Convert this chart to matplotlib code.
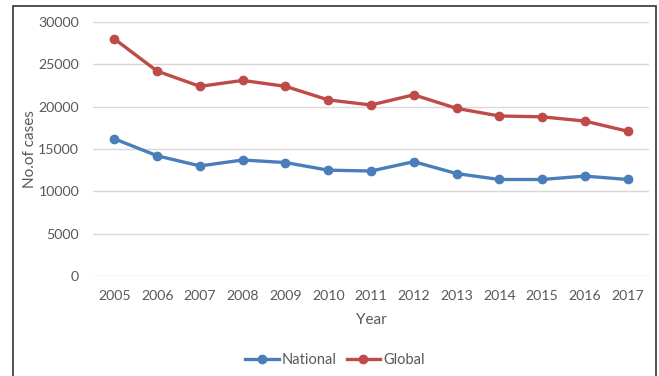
import matplotlib.pyplot as plt
from matplotlib.patches import Rectangle

# Chart data
years = [2005, 2006, 2007, 2008, 2009, 2010, 2011, 2012, 2013, 2014, 2015, 2016, 2017]
national = [16200, 14200, 13000, 13700, 13400, 12500, 12400, 13500, 12100, 11400, 11400, 11800, 11400]
global_cases = [28000, 24200, 22400, 23100, 22400, 20800, 20200, 21400, 19800, 18900, 18800, 18300, 17100]

text_color = "#595959"
plt.rcParams["font.family"] = ["Lato", "DejaVu Sans"]

fig = plt.figure(figsize=(6.59, 3.76), dpi=100)
ax = fig.add_axes([93 / 659, 100 / 376, 556 / 659, 254 / 376])

# outer frame
fig.patches.append(
    Rectangle((13 / 659, -0.05), 643 / 659, 1.05 - 6 / 376, transform=fig.transFigure,
              fill=False, edgecolor="#333333", linewidth=1.2)
)

ax.plot(years, national, color="#4A7EBB", linewidth=2.4, marker="o", markersize=6, label="National")
ax.plot(years, global_cases, color="#BE4B48", linewidth=2.4, marker="o", markersize=6, label="Global")

ax.set_xlim(2004.5, 2017.5)
ax.set_ylim(0, 30000)
ax.set_xticks(years)
ax.set_yticks(range(0, 30001, 5000))
ax.grid(axis="y", color="#D9D9D9", linewidth=1)
ax.set_axisbelow(True)
for s in ax.spines.values():
    s.set_visible(False)
ax.tick_params(length=0, colors=text_color, labelsize=10.2)
ax.tick_params(axis="x", pad=10)
ax.tick_params(axis="y", pad=10)

ax.set_xlabel("Year", color=text_color, fontsize=11)
ax.set_ylabel("No.of cases", color=text_color, fontsize=11)
ax.xaxis.set_label_coords(0.5, -0.145)
ax.yaxis.set_label_coords(-0.101, 0.5)

fig.legend(*ax.get_legend_handles_labels(), loc="center", bbox_to_anchor=(0.508, 16 / 376),
           ncol=2, frameon=False, fontsize=10.5, labelcolor=text_color,
           handlelength=2.3, columnspacing=0.7, handletextpad=0.2)

fig.savefig("out.png", dpi=100)
